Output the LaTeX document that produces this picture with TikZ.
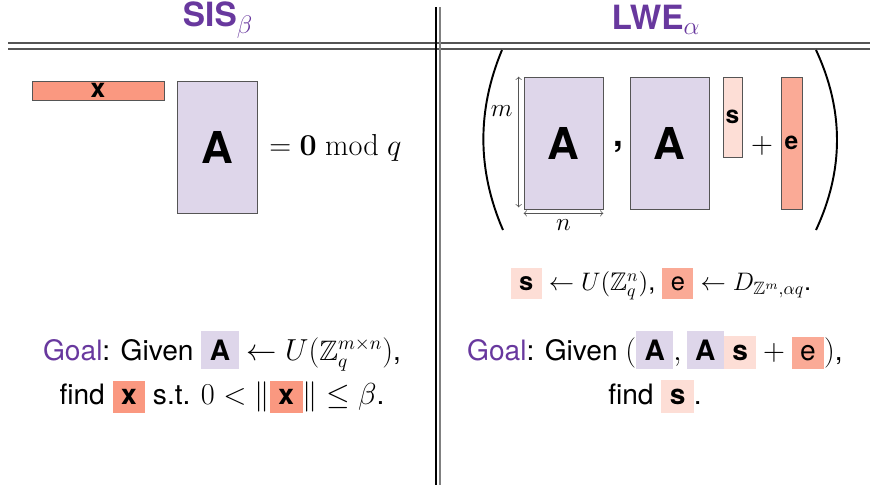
\documentclass[tikz,border=0pt]{standalone}
\usepackage[no-math]{fontspec}
\setmainfont{TeX Gyre Heros}
\usepackage{amsmath,amssymb}
\usepackage{tikz}
\usetikzlibrary{calc}

\definecolor{hdpurple}{RGB}{104,56,158}
\definecolor{matlav}{RGB}{222,214,234}
\definecolor{xsalmon}{RGB}{250,152,128}
\definecolor{esalmon}{RGB}{250,170,150}
\definecolor{spink}{RGB}{253,222,214}
\definecolor{rulegray}{RGB}{85,85,85}

\newcommand{\hlbox}[2]{{\setlength{\fboxsep}{4.8pt}\colorbox{#1}{#2}}}

\begin{document}
\begin{tikzpicture}[x=0.02cm,y=-0.02cm,>=to,
        matbox/.style={draw=rulegray, fill=matlav, minimum width=1.6cm, minimum height=2.64cm, font=\fontsize{25}{30}\selectfont\bfseries},
        vecbox/.style={draw=rulegray, minimum width=0.4cm, inner sep=0pt, font=\fontsize{14}{16}\selectfont\bfseries},
        txt/.style={inner sep=0pt, font=\fontsize{16}{25}\selectfont},
        head/.style={inner sep=0pt, text=hdpurple, font=\fontsize{19}{22}\selectfont\bfseries}]
        \useasboundingbox (0,0) rectangle (870,485);

        \coordinate (sis) at (218,20);
        \coordinate (lwe) at (656,20);
        \coordinate (xbar) at (98,90.5);
        \coordinate (amat) at (217,147.5);
        \coordinate (amat_l) at (563.5,143);
        \coordinate (amat_r) at (669.5,143);
        \coordinate (svec) at (732.5,117);
        \coordinate (evec) at (791.5,143);

        % frame of the table
        \draw[rulegray, line width=0.7pt] (8,43) -- (870,43);
        \draw[rulegray, line width=0.7pt] (8,49) -- (870,49);
        \draw[black, line width=0.7pt] (436,7) -- (436,485);
        \draw[gray, line width=0.7pt] (440,7) -- (440,485);

        \node[head] (SIS) at (sis) {SIS$_\beta$};
        \node[head] (LWE) at (lwe) {LWE$_\alpha$};

        % SIS side
        \node[draw=rulegray, fill=xsalmon, minimum width=2.64cm, minimum height=0.38cm, inner sep=0pt, font=\fontsize{15}{16}\selectfont\bfseries] (Xbar) at (xbar) {x};
        \node[matbox] (Amat) at (amat) {A};
        \node[txt, anchor=west] (Zero) at (269,148) {$=\mathbf{0}\bmod q$};

        % LWE side
        \node[matbox, minimum width=1.58cm] (Amat_l) at (amat_l) {A};
        \node[matbox, minimum width=1.58cm] (Amat_r) at (amat_r) {A};
        \node[vecbox, fill=spink, minimum width=0.38cm, minimum height=1.6cm] (Svec) at (svec) {s};
        \node[vecbox, fill=esalmon, minimum width=0.42cm, minimum height=2.64cm] (Evec) at (evec) {e};
        \node[txt, font=\fontsize{20}{20}\selectfont\bfseries] (Comma) at (618,147) {,};
        \node[txt] (Plus) at (762,146) {$+$};

        \path[draw, rulegray, <->] ($(Amat_l.north west)+(-5,0)$) -- node[black, left, pos=0.26, font=\fontsize{15}{15}\selectfont]{$m$} ($(Amat_l.south west)+(-5,-2)$);
        \path[draw, rulegray, <->] ($(Amat_l.south west)+(0,4)$) -- node[black, below, font=\fontsize{15}{15}\selectfont]{$n$} ($(Amat_l.south east)+(0,4)$);

        \draw[line width=1.1pt] (502,50) .. controls (477,110) and (477,170) .. (503,230);
        \draw[line width=1.1pt] (816,50) .. controls (844,110) and (844,170) .. (816,230);

        \node[txt, font=\fontsize{14.5}{20}\selectfont] (Dist) at (661,284) {\hlbox{spink}{\textbf{s}} $\leftarrow U(\mathbb{Z}_q^n)$, \hlbox{esalmon}{e} $\leftarrow D_{\mathbb{Z}^m,\alpha q}$.};

        % goals
        \node[txt, align=center] (GoalSIS) at (222,372) {{\color{hdpurple}Goal}: Given \hlbox{matlav}{\textbf{A}} $\leftarrow U(\mathbb{Z}_q^{m\times n})$,\\
            find \hlbox{xsalmon}{\textbf{x}} s.t. $0<\|\hlbox{xsalmon}{\textbf{x}}\|\le\beta$.};
        \node[txt, align=center] (GoalLWE) at (655,372) {{\color{hdpurple}Goal}: Given $(\hlbox{matlav}{\textbf{A}},\hlbox{matlav}{\textbf{A}}\hlbox{spink}{\textbf{s}}+\hlbox{esalmon}{e})$,\\
            find \hlbox{spink}{\textbf{s}}.};
\end{tikzpicture}
\end{document}
